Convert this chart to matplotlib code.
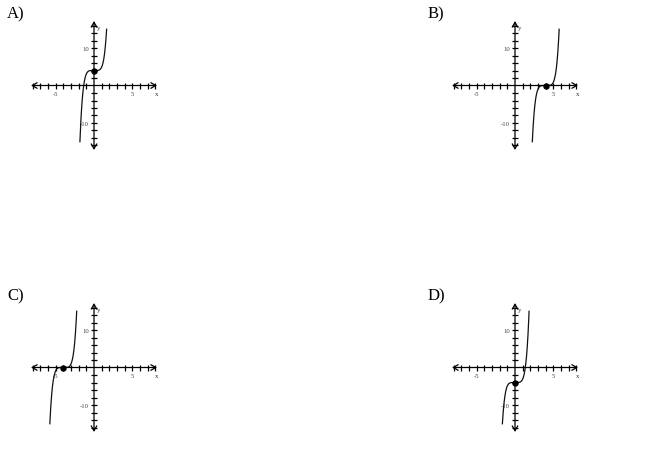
import numpy as np
import matplotlib
matplotlib.use("Agg")
import matplotlib.pyplot as plt

# ---- data ----
panel_labels = ["A)", "B)", "C)", "D)"]
shift_x = [0, 4, -4, 0]        # x of the marked point
shift_y = [4, 0, 0, -4]        # y of the marked point
coef = [0.92, 0.92, 0.92, 0.92]
power = [5, 5, 5, 5]
curve_ymin = [-15, -15, -15, -15]
curve_ymax = [15, 15, 15, 15]
x_ticks = [-8, -7, -6, -5, -4, -3, -2, -1, 1, 2, 3, 4, 5, 6, 7, 8]
x_ticklabels = ["", "", "", "-5", "", "", "", "", "", "", "", "", "5", "", "", ""]
y_ticks = [-16, -14, -12, -10, -8, -6, -4, -2, 2, 4, 6, 8, 10, 12, 14, 16]
y_ticklabels = ["", "", "", "-10", "", "", "", "", "", "", "", "", "10", "", "", ""]

W, H = 650, 456
fig = plt.figure(figsize=(W / 100, H / 100), dpi=100)

# pixel boxes of each panel's axes (left, right, top, bottom)
boxes = [(31, 157, 22, 151), (452, 578, 22, 151),
         (31, 157, 304, 433), (452, 578, 304, 433)]
label_pos = [(7, 18), (428, 18), (7, 300), (428, 300)]

for i in range(4):
    l, r, t, b = boxes[i]
    ax = fig.add_axes([l / W, 1 - b / H, (r - l) / W, (b - t) / H])
    ax.set_xlim(-8.2, 8.2)
    ax.set_ylim(-17.2, 17.2)
    ax.patch.set_visible(False)
    for s in ["top", "right"]:
        ax.spines[s].set_visible(False)
    ax.spines["left"].set_position("zero")
    ax.spines["bottom"].set_position("zero")
    for s in ["left", "bottom"]:
        ax.spines[s].set_visible(False)
    ax.set_xticks(x_ticks)
    ax.set_xticklabels(x_ticklabels)
    ax.set_yticks(y_ticks)
    ax.set_yticklabels(y_ticklabels)
    ax.tick_params(direction="inout", length=4.5, width=0.9, pad=1.5,
                   labelsize=4.8, colors="black", labelcolor="#444444")
    for lab in ax.get_xticklabels() + ax.get_yticklabels():
        lab.set_family("Liberation Serif")
    # axes with arrows
    ax.annotate("", xy=(1, 0), xytext=(0, 0),
                xycoords=("axes fraction", "data"), textcoords=("axes fraction", "data"),
                arrowprops=dict(arrowstyle="<->,head_length=0.35,head_width=0.2", lw=0.9,
                                color="black", shrinkA=0, shrinkB=0))
    ax.annotate("", xy=(0, 1), xytext=(0, 0),
                xycoords=("data", "axes fraction"), textcoords=("data", "axes fraction"),
                arrowprops=dict(arrowstyle="<->,head_length=0.35,head_width=0.2", lw=0.9,
                                color="black", shrinkA=0, shrinkB=0))
    ax.annotate("x", xy=(1, 0), xycoords=("axes fraction", "data"),
                xytext=(0, -6), textcoords="offset points", ha="center", va="center",
                fontsize=5, family="Liberation Serif", color="#333333")
    ax.annotate("y", xy=(0, 1), xycoords=("data", "axes fraction"),
                xytext=(3.5, -5), textcoords="offset points", ha="center", va="center",
                fontsize=5, family="Liberation Serif", color="#333333")
    # curve
    a, n, h, k = coef[i], power[i], shift_x[i], shift_y[i]
    xa = h - (abs(curve_ymin[i] - k) / a) ** (1.0 / n)
    xb = h + (abs(curve_ymax[i] - k) / a) ** (1.0 / n)
    xs = np.linspace(xa, xb, 400)
    ax.plot(xs, a * (xs - h) ** n + k, color="#111111", lw=0.9)
    ax.plot([h], [k], "o", color="black", ms=3.6)
    fig.text(label_pos[i][0] / W, 1 - label_pos[i][1] / H, panel_labels[i],
             fontsize=12, family="Liberation Serif", va="baseline", ha="left")

fig.savefig("out.png", dpi=100)
